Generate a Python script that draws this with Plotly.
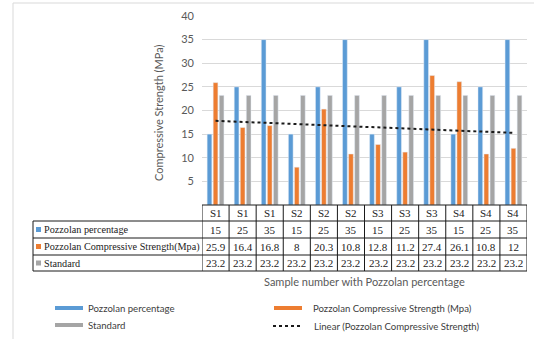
import numpy as np
import plotly.graph_objects as go

# Sample labels and measured values
samples = ["S1", "S1", "S1", "S2", "S2", "S2", "S3", "S3", "S3", "S4", "S4", "S4"]
pozzolan_pct = [15, 25, 35, 15, 25, 35, 15, 25, 35, 15, 25, 35]
pozzolan_strength = [25.9, 16.4, 16.8, 8, 20.3, 10.8, 12.8, 11.2, 27.4, 26.1, 10.8, 12]
standard = [23.2] * 12

name_pct = "Pozzolan percentage"
name_str = "Pozzolan Compressive Strength (Mpa)"
name_std = "Standard"
name_trend = "Linear (Pozzolan Compressive Strength)"
table_names = ["Pozzolan percentage", "Pozzolan Compressive Strength(Mpa)", "Standard"]
y_ticks = [5, 10, 15, 20, 25, 30, 35, 40]

BLUE, ORANGE, GREY = "#5B9BD5", "#ED7D31", "#A5A5A5"
W, H = 534, 339
SANS = "Lato, Liberation Sans, sans-serif"
SERIF = "Liberation Serif, Times New Roman, serif"


def px(x):
    return x / W


def py(y):
    return 1 - y / H


idx = list(range(len(samples)))

# Linear trend fitted to the compressive strength series
slope, intercept = np.polyfit(np.arange(1, 13), pozzolan_strength, 1)
trend = [slope * (i + 1) + intercept for i in idx]

fig = go.Figure()
fig.add_trace(go.Bar(x=idx, y=pozzolan_pct, name=name_pct, marker_color=BLUE))
fig.add_trace(go.Bar(x=idx, y=pozzolan_strength, name=name_str, marker_color=ORANGE))
fig.add_trace(go.Bar(x=idx, y=standard, name=name_std, marker_color=GREY))
fig.add_trace(go.Scatter(x=idx, y=trend, mode="lines", name=name_trend,
                         line=dict(color="#1a1a1a", width=2, dash="dot")))

shapes = []
annotations = []


def note(x, y, text, font, xanchor="center", yanchor="middle", **kw):
    annotations.append(dict(x=x, y=y, xref=kw.pop("xref", "paper"), yref="paper", text=text,
                            showarrow=False, font=font, xanchor=xanchor, yanchor=yanchor, **kw))


# Outer frame lines
shapes.append(dict(type="line", xref="paper", yref="paper", x0=px(13), x1=px(13),
                   y0=py(3), y1=py(339), line=dict(color="#d9d9d9", width=1)))
shapes.append(dict(type="line", xref="paper", yref="paper", x0=px(13), x1=px(534),
                   y0=py(3), y1=py(3), line=dict(color="#d9d9d9", width=1)))

# Data table under the plot
rows_y = [205, 221, 238, 255, 271]
tx0, tlab = 202, 33
tx1 = 527
line_style = dict(color="#1a1a1a", width=1)
shapes.append(dict(type="line", xref="paper", yref="paper", x0=px(tx0), x1=px(tx1),
                   y0=py(rows_y[0]), y1=py(rows_y[0]), line=line_style))
for ry in rows_y[1:]:
    shapes.append(dict(type="line", xref="paper", yref="paper", x0=px(tlab), x1=px(tx1),
                       y0=py(ry), y1=py(ry), line=line_style))
shapes.append(dict(type="line", xref="paper", yref="paper", x0=px(tlab), x1=px(tlab),
                   y0=py(rows_y[1]), y1=py(rows_y[-1]), line=line_style))
for k in range(len(samples) + 1):
    shapes.append(dict(type="line", xref="x", yref="paper", x0=k - 0.5, x1=k - 0.5,
                       y0=py(rows_y[0]), y1=py(rows_y[-1]), line=line_style))

cell_font = dict(family=SERIF, size=11, color="#222")
table_rows = [samples, pozzolan_pct, pozzolan_strength, standard]
for r, vals in enumerate(table_rows):
    yc = (rows_y[r] + rows_y[r + 1]) / 2
    for i, v in zip(idx, vals):
        note(i, py(yc), str(v), cell_font, xref="x")

label_font = dict(family=SERIF, size=10.2, color="#222")
for r, (nm, col) in enumerate(zip(table_names, [BLUE, ORANGE, GREY])):
    yc = (rows_y[r + 1] + rows_y[r + 2]) / 2
    shapes.append(dict(type="rect", xref="paper", yref="paper", x0=px(36), x1=px(41),
                       y0=py(yc - 2.5), y1=py(yc + 2.5), fillcolor=col, line=dict(width=0)))
    note(px(41.5), py(yc), nm, label_font, xanchor="left")

# Axis titles
axis_font = dict(family=SANS, size=11, color="#595959")
note(px(159), py(113), "Compressive Strength (MPa)", axis_font, textangle=-90)
note(px(364), py(281), "Sample number with Pozzolan percentage", axis_font)

# Legend drawn in two columns
leg_font = dict(family=SANS, size=9.6, color="#404040")
legend_items = [
    (55, 308, BLUE, name_pct, 86),
    (274, 308, ORANGE, name_str, 311),
    (55, 325, GREY, name_std, 86),
]
for x0, yc, col, nm, tx in legend_items:
    shapes.append(dict(type="rect", xref="paper", yref="paper", x0=px(x0), x1=px(x0 + 28),
                       y0=py(yc - 2), y1=py(yc + 2), fillcolor=col, line=dict(width=0)))
    note(px(tx), py(yc), nm, leg_font, xanchor="left")
shapes.append(dict(type="line", xref="paper", yref="paper", x0=px(273), x1=px(302),
                   y0=py(326), y1=py(326), line=dict(color="#1a1a1a", width=2, dash="dot")))
note(px(312), py(326), name_trend, leg_font, xanchor="left")

fig.update_layout(
    width=W, height=H,
    margin=dict(l=0, r=0, t=0, b=0, autoexpand=False),
    paper_bgcolor="white", plot_bgcolor="white",
    barmode="group", bargap=0.33, bargroupgap=0.22,
    showlegend=False,
    shapes=shapes, annotations=annotations,
    xaxis=dict(domain=[px(tx0), px(tx1)], range=[-0.5, 11.5], showticklabels=False,
               showgrid=False, zeroline=False, showline=False, fixedrange=True,
               automargin=False),
    yaxis=dict(domain=[py(205), py(16)], range=[0, 40], tickvals=y_ticks,
               showgrid=True, gridcolor="#d9d9d9", gridwidth=1, zeroline=False,
               showline=False, ticklabelstandoff=7, automargin=False,
               tickfont=dict(family=SANS, size=11, color="#595959")),
)

fig.write_html("out.html")
